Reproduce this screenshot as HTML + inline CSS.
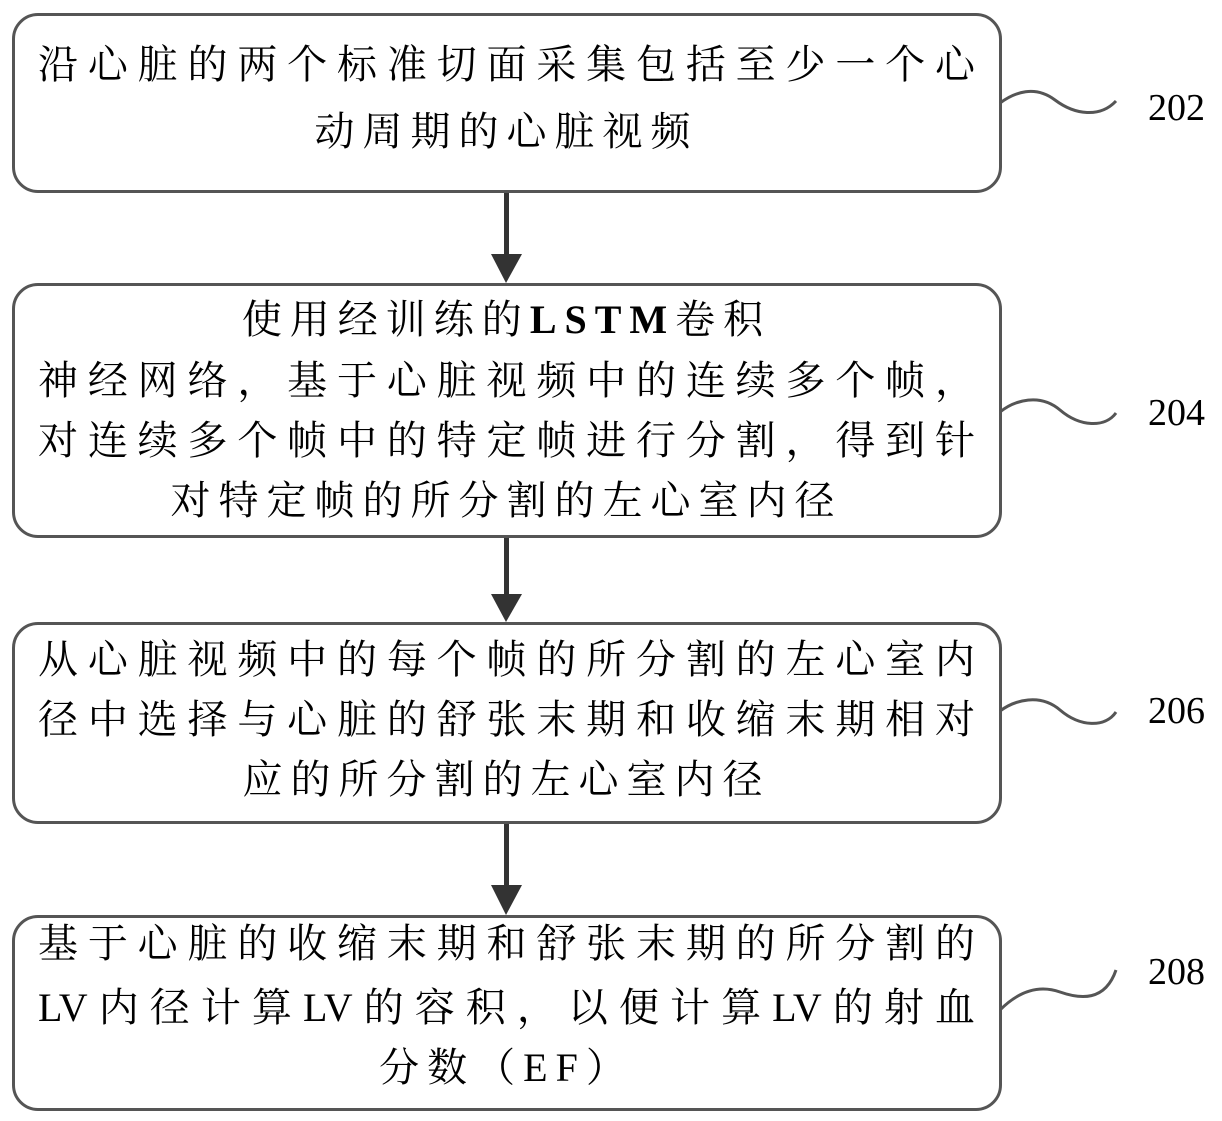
<!DOCTYPE html>
<html><head><meta charset="utf-8"><style>
body{margin:0;width:1222px;height:1121px;background:#fff;position:relative;overflow:hidden;font-family:"Liberation Serif","Noto Serif CJK SC",serif;color:#000}
.box{position:absolute;left:12px;width:984px;border:3px solid #555;border-radius:26px;box-sizing:content-box}
.l{position:absolute;left:38px;width:937px;font-size:40px;line-height:1;white-space:nowrap}
.j{text-align:justify;text-align-last:justify}
.c{text-align:center;letter-spacing:8px}
b{font-family:"Liberation Serif",serif;font-weight:bold}
.n{position:absolute;left:1148px;font-size:38px;font-family:"Liberation Serif",serif}
</style></head><body>
<div class="box" style="top:13px;height:174px"></div>
<div class="box" style="top:283px;height:249px"></div>
<div class="box" style="top:622px;height:196px"></div>
<div class="box" style="top:915px;height:190px"></div>

<div class="l j" style="top:45px">沿心脏的两个标准切面采集包括至少一个心</div>
<div class="l c" style="top:112px">动周期的心脏视频</div>

<div class="l c" style="top:300px">使用经训练的<b>LSTM</b>卷积</div>
<div class="l j" style="top:361px">神经网络，基于心脏视频中的连续多个帧，</div>
<div class="l j" style="top:421px">对连续多个帧中的特定帧进行分割，得到针</div>
<div class="l c" style="top:481px">对特定帧的所分割的左心室内径</div>

<div class="l j" style="top:640px">从心脏视频中的每个帧的所分割的左心室内</div>
<div class="l j" style="top:700px">径中选择与心脏的舒张末期和收缩末期相对</div>
<div class="l c" style="top:760px">应的所分割的左心室内径</div>

<div class="l j" style="top:924px">基于心脏的收缩末期和舒张末期的所分割的</div>
<div class="l j" style="top:988px">LV内径计算LV的容积，以便计算LV的射血</div>
<div class="l c" style="top:1048px">分数（EF）</div>

<div class="n" style="top:86px">202</div>
<div class="n" style="top:391px">204</div>
<div class="n" style="top:689px">206</div>
<div class="n" style="top:950px">208</div>

<svg width="1222" height="1121" style="position:absolute;left:0;top:0" fill="none" stroke="#555" stroke-width="3">
<path d="M1000 103 C1015 92,1035 85,1055 100 S1100 118,1116 101"/>
<path d="M1000 412 C1015 400,1040 393,1060 410 S1105 428,1116 413"/>
<path d="M1000 711 C1015 700,1040 693,1060 710 S1105 728,1116 712"/>
<path d="M1000 1010 C1020 990,1040 985,1060 992 S1105 1002,1116 970"/>
<g fill="#333" stroke="none">
<rect x="504" y="193" width="5" height="63"/><polygon points="491,254 522,254 506,283"/>
<rect x="504" y="538" width="5" height="58"/><polygon points="491,594 522,594 506,622"/>
<rect x="504" y="824" width="5" height="63"/><polygon points="491,885 522,885 506,915"/>
</g>
</svg>
</body></html>
